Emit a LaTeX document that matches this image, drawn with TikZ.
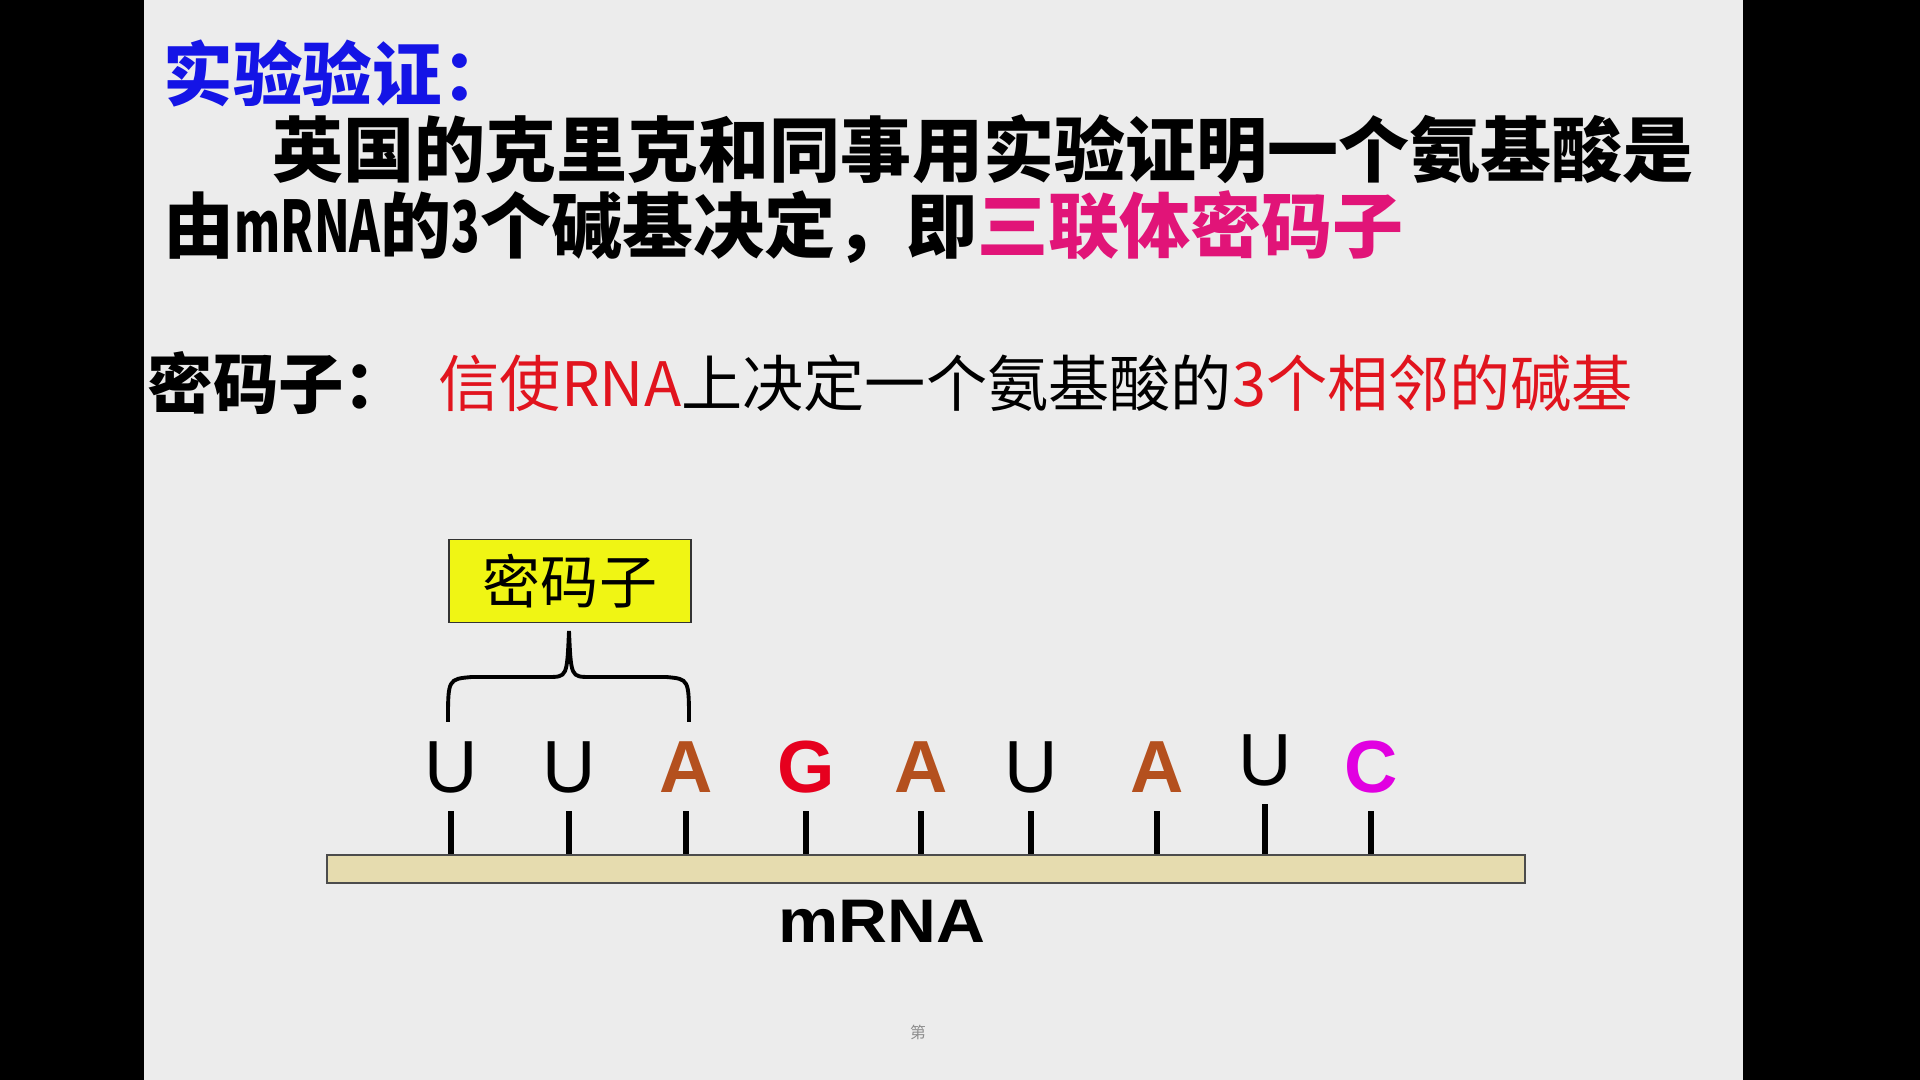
\documentclass[tikz,border=0pt]{standalone}
\usepackage{fontspec}
\setmainfont{Liberation Sans}
\newfontfamily\cjk{Noto Sans CJK SC}
\usetikzlibrary{calc,positioning}
\definecolor{slide}{RGB}{236,236,236}
\definecolor{titleblue}{RGB}{20,20,230}
\definecolor{pinkred}{RGB}{225,20,120}
\definecolor{defred}{RGB}{225,20,30}
\definecolor{brownA}{RGB}{180,80,30}
\definecolor{redG}{RGB}{230,0,30}
\definecolor{magC}{RGB}{225,0,225}
\definecolor{tan}{RGB}{230,220,175}
\definecolor{codon}{RGB}{240,245,20}
\newcommand{\narrow}[1]{\scalebox{0.66}[1]{#1}}

\begin{document}
\begin{tikzpicture}[x=0.01cm,y=-0.01cm,
  txt/.style={inner sep=0pt,anchor=west},
  base/.style={inner sep=0pt,anchor=base,text depth=0pt,font=\fontsize{21}{24}\selectfont},
  baseb/.style={base,font=\bfseries\fontsize{21}{24}\selectfont},
  tick/.style={line width=1.7pt,shorten <=5pt}]
  \useasboundingbox (0,0) rectangle (1920,1080);
  \fill[black] (0,0) rectangle (1920,1080);
  \fill[slide] (144,0) rectangle (1743,1080);

  \node[txt,text=titleblue,font={\cjk\bfseries\fontsize{19.8}{22}\selectfont}] (t) at (163,73) {实验验证：};
  \node[txt,font={\cjk\bfseries\fontsize{20.2}{24}\selectfont}] (l1) at (272,149) {英国的克里克和同事用实验证明一个氨基酸是};
  \node[txt,font={\cjk\bfseries\fontsize{20.2}{24}\selectfont}] (l2) at (163,227) {由\narrow{mRNA}的\narrow{3}个碱基决定，即\textcolor{pinkred}{三联体密码子}};
  \node[txt,font={\cjk\bfseries\fontsize{18.6}{21}\selectfont}] (term) at (147,383) {密码子：};
  \node[txt,font={\cjk\fontsize{17.4}{20}\selectfont}] (defn) at (438,383) {\textcolor{defred}{信使RNA}上决定一个氨基酸的\textcolor{defred}{3个相邻的碱基}};

  \node[draw=black!80,fill=codon,minimum width=2.42cm,minimum height=0.83cm,inner sep=0pt,font={\cjk\fontsize{16.5}{20}\selectfont}] (box) at (570,581) {密码子};
  \draw[line width=1.1pt] (448,722) .. controls (448,679) .. (472,677) -- (548,677) .. controls (567,677) .. (569,631)
    .. controls (571,677) .. (590,677) -- (666,677) .. controls (689,679) .. (689,722);

  \node[draw=black!70,fill=tan,minimum width=11.97cm,minimum height=0.28cm,inner sep=0pt] (bar) at (926,869) {};

  \node[base] (b1) at (451,793) {U};
  \node[base] (b2) at (569,793) {U};
  \node[baseb,text=brownA] (b3) at (686,793) {A};
  \node[baseb,text=redG] (b4) at (806,793) {G};
  \node[baseb,text=brownA] (b5) at (921,793) {A};
  \node[base] (b6) at (1031,793) {U};
  \node[baseb,text=brownA] (b7) at (1157,793) {A};
  \node[base] (b8) at (1265,786) {U};
  \node[baseb,text=magC] (b9) at (1371,793) {C};

  \draw[tick] (b1.south) -- (b1.south |- bar.north);
  \draw[tick] (b2.south) -- (b2.south |- bar.north);
  \draw[tick] (b3.south) -- (b3.south |- bar.north);
  \draw[tick] (b4.south) -- (b4.south |- bar.north);
  \draw[tick] (b5.south) -- (b5.south |- bar.north);
  \draw[tick] (b6.south) -- (b6.south |- bar.north);
  \draw[tick] (b7.south) -- (b7.south |- bar.north);
  \draw[tick] (b8.south) -- (b8.south |- bar.north);
  \draw[tick] (b9.south) -- (b9.south |- bar.north);

  \node[inner sep=0pt,font=\bfseries\fontsize{17.5}{20}\selectfont] (lab) at (882,921) {\scalebox{1.1}[1]{mRNA}};
  \node[inner sep=0pt,text=black!45,font={\cjk\fontsize{4.5}{5}\selectfont}] (pg) at (918,1032) {第};
\end{tikzpicture}
\end{document}
